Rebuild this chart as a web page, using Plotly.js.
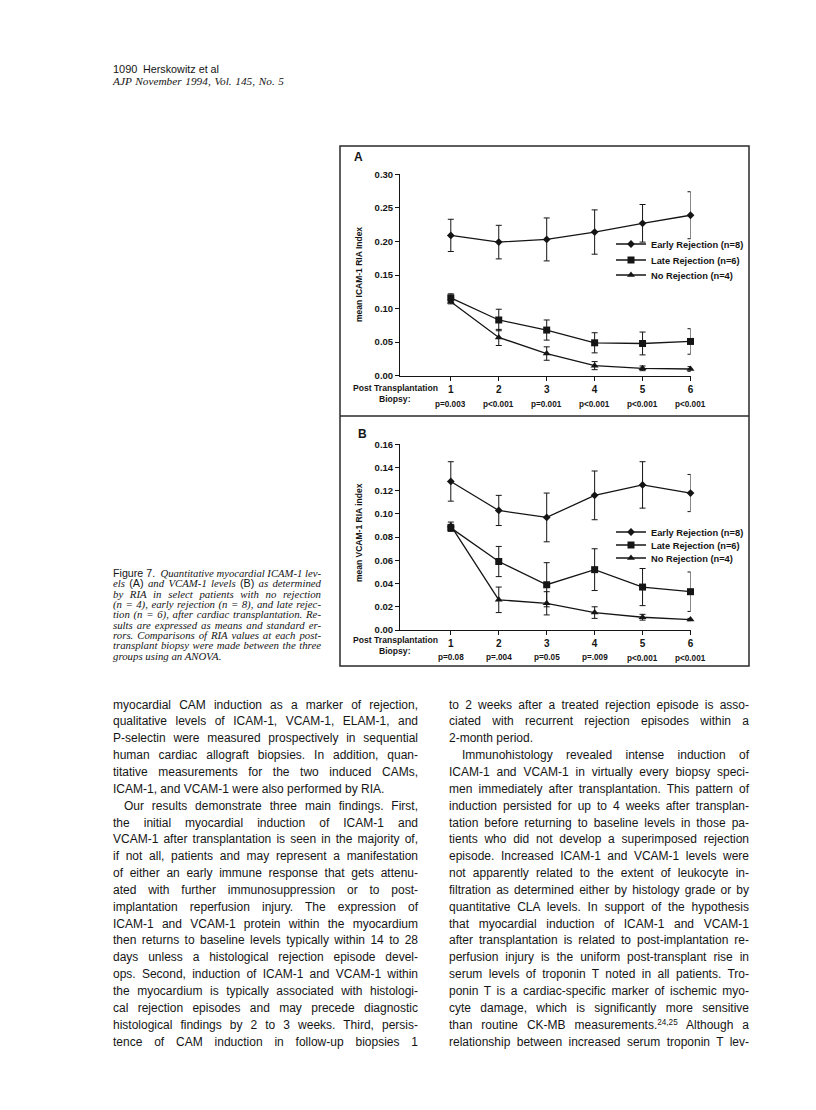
<!DOCTYPE html>
<html><head><meta charset="utf-8">
<script src="https://cdn.plot.ly/plotly-3.0.1.min.js"></script>
<style>
html,body{margin:0;padding:0;background:#fff;}
#page{position:relative;width:816px;height:1110px;overflow:hidden;background:#fff;}
#chart{position:absolute;left:0;top:0;width:816px;height:1110px;}
#text{position:absolute;left:0;top:0;width:816px;height:1110px;}
.ln{position:absolute;white-space:nowrap;color:#151515;transform-origin:0 50%;}
.sans{font-family:"Liberation Sans",Arial,Helvetica,sans-serif;font-style:normal;}
.serif{font-family:"Liberation Serif","Times New Roman",serif;font-style:italic;}
sup{font-size:0.68em;vertical-align:0.45em;line-height:0;}
</style></head><body>
<div id="page"><div id="text"></div><div id="chart"></div></div>
<script>
// ---------------- data ----------------
const biopsy = [1, 2, 3, 4, 5, 6];
const biopsyLabels = ["1", "2", "3", "4", "5", "6"];
const seriesNames = ["Early Rejection (n=8)", "Late Rejection (n=6)", "No Rejection (n=4)"];

// Panel A: ICAM-1
const icamEarly = [0.209, 0.199, 0.203, 0.214, 0.227, 0.239];
const icamEarlyErr = [0.024, 0.025, 0.032, 0.033, 0.028, 0.035];
const icamLate = [0.116, 0.083, 0.068, 0.049, 0.048, 0.051];
const icamLateErr = [0.006, 0.016, 0.015, 0.015, 0.017, 0.019];
const icamNo = [0.110, 0.057, 0.033, 0.015, 0.011, 0.010];
const icamNoErr = [0.003, 0.012, 0.010, 0.006, 0.0035, 0.0035];
const icamP = ["p=0.003", "p<0.001", "p=0.001", "p<0.001", "p<0.001", "p<0.001"];

// Panel B: VCAM-1
const vcamEarly = [0.128, 0.103, 0.097, 0.116, 0.125, 0.118];
const vcamEarlyErr = [0.017, 0.013, 0.021, 0.021, 0.020, 0.016];
const vcamLate = [0.088, 0.059, 0.039, 0.052, 0.037, 0.033];
const vcamLateErr = [0.003, 0.013, 0.019, 0.018, 0.016, 0.017];
const vcamNo = [0.090, 0.026, 0.023, 0.015, 0.011, 0.009];
const vcamNoErr = [0.003, 0.011, 0.010, 0.005, 0.0025, 0.001];
const vcamP = ["p=0.08", "p=.004", "p=0.05", "p=.009", "p<0.001", "p<0.001"];

// ---------------- chart ----------------
const W = 816, H = 1110;
const px = x => x / W, py = y => 1 - y / H;
const F = '"Liberation Sans", Arial, Helvetica, sans-serif';
const INK = '#151515';
const symbols = ['diamond', 'square', 'triangle-up'];
const msizes = [6, 7, 7];

function mk(xa, ya, ys, errs, i, leg) {
  return {
    x: biopsy, y: ys, type: 'scatter', mode: 'lines+markers',
    name: seriesNames[i], xaxis: xa, yaxis: ya, legend: leg, cliponaxis: false,
    line: {color: INK, width: 1.3},
    marker: {symbol: symbols[i], size: msizes[i], color: INK},
    error_y: {type: 'data', array: errs, visible: true, color: INK, thickness: 1, width: 3}
  };
}
const traces = [
  mk('x', 'y', icamEarly, icamEarlyErr, 0, 'legend'),
  mk('x', 'y', icamLate, icamLateErr, 1, 'legend2'),
  mk('x', 'y', icamNo, icamNoErr, 2, 'legend3'),
  mk('x2', 'y2', vcamEarly, vcamEarlyErr, 0, 'legend4'),
  mk('x2', 'y2', vcamLate, vcamLateErr, 1, 'legend5'),
  mk('x2', 'y2', vcamNo, vcamNoErr, 2, 'legend6')
];

function leg(y) {
  return {x: px(611), y: py(y), xanchor: 'left', yanchor: 'middle', bgcolor: 'rgba(0,0,0,0)',
    borderwidth: 0, font: {family: F, size: 9.3, color: INK, weight: 700}, itemwidth: 30};
}
function xax(anchor) {
  return {domain: [px(400), px(690.5)], range: [-0.06, 6.0], anchor: anchor,
    tickmode: 'array', tickvals: biopsy, ticktext: biopsyLabels,
    ticks: 'outside', ticklen: 4, tickwidth: 1, tickcolor: INK,
    showline: true, linecolor: INK, linewidth: 1, showgrid: false, zeroline: false,
    tickfont: {family: F, size: 10, color: INK, weight: 700}, fixedrange: true};
}
function yax(anchor, top, bottom, max, dt) {
  return {domain: [py(bottom), py(top)], range: [0, max], anchor: anchor, dtick: dt, tick0: 0,
    tickformat: '.2f', ticks: 'outside', ticklen: 4, tickwidth: 1, tickcolor: INK,
    showline: true, linecolor: INK, linewidth: 1, showgrid: false, zeroline: false,
    tickfont: {family: F, size: 9.5, color: INK, weight: 700}, fixedrange: true};
}

const ann = [];
function txt(x, y, t, size, extra) {
  ann.push(Object.assign({xref: 'paper', yref: 'paper', x: px(x), y: py(y), text: t, showarrow: false,
    xanchor: 'center', yanchor: 'middle', font: {family: F, size: size, color: INK, weight: 700}}, extra || {}));
}
txt(358, 157, 'A', 12);
txt(362, 434, 'B', 12);
txt(359, 275, 'mean ICAM-1 RIA Index', 8.5, {textangle: -90});
txt(359, 533, 'mean VCAM-1 RIA index', 8.5, {textangle: -90});
txt(395, 388, 'Post Transplantation', 8.6);
txt(395, 398.5, 'Biopsy:', 8.6);
txt(395, 640, 'Post Transplantation', 8.6);
txt(395, 650.5, 'Biopsy:', 8.6);
biopsy.forEach((b, i) => {
  ann.push({xref: 'x', yref: 'paper', x: b, y: py(404), text: icamP[i], showarrow: false,
    xanchor: 'center', yanchor: 'middle', font: {family: F, size: 8.2, color: INK, weight: 700}});
  ann.push({xref: 'x2', yref: 'paper', x: b, y: py(i >= 4 ? 658.5 : 657), text: vcamP[i], showarrow: false,
    xanchor: 'center', yanchor: 'middle', font: {family: F, size: 8.2, color: INK, weight: 700}});
});

const shapes = [
  {type: 'rect', xref: 'paper', yref: 'paper', x0: px(340), x1: px(749), y0: py(666), y1: py(146),
    line: {color: '#2a2a2a', width: 1.5}},
  {type: 'line', xref: 'paper', yref: 'paper', x0: px(340), x1: px(749), y0: py(416), y1: py(416),
    line: {color: '#2a2a2a', width: 1.5}}
];

const layout = {
  width: W, height: H, margin: {l: 0, r: 0, t: 0, b: 0},
  paper_bgcolor: 'rgba(0,0,0,0)', plot_bgcolor: 'rgba(0,0,0,0)',
  showlegend: true,
  xaxis: xax('y'), yaxis: yax('x', 174.3, 375.7, 0.30, 0.05),
  xaxis2: xax('y2'), yaxis2: yax('x2', 444.3, 630, 0.16, 0.02),
  legend: leg(244), legend2: leg(260), legend3: leg(275),
  legend4: leg(532), legend5: leg(545), legend6: leg(558),
  annotations: ann, shapes: shapes
};
Plotly.newPlot('chart', traces, layout, {staticPlot: true, displayModeBar: false});

// ---------------- page text ----------------
const headerNum = "1090";
const headerAuthors = "Herskowitz et al";
const headerJournal = "AJP November 1994, Vol. 145, No. 5";

const captionLines = [
  '<span class="sans">Figure 7.</span>&nbsp; Quantitative myocardial ICAM-1 lev-',
  'els <span class="sans">(A)</span> and VCAM-1 levels <span class="sans">(B)</span> as determined',
  'by RIA in select patients with no rejection',
  '(n = 4), early rejection (n = 8), and late rejec-',
  'tion (n = 6), after cardiac transplantation. Re-',
  'sults are expressed as means and standard er-',
  'rors. Comparisons of RIA values at each post-',
  'transplant biopsy were made between the three',
  'groups using an ANOVA.'
];
const leftLines = [
  'myocardial CAM induction as a marker of rejection,',
  'qualitative levels of ICAM-1, VCAM-1, ELAM-1, and',
  'P-selectin were measured prospectively in sequential',
  'human cardiac allograft biopsies. In addition, quan-',
  'titative measurements for the two induced CAMs,',
  'ICAM-1, and VCAM-1 were also performed by RIA.',
  'Our results demonstrate three main findings. First,',
  'the initial myocardial induction of ICAM-1 and',
  'VCAM-1 after transplantation is seen in the majority of,',
  'if not all, patients and may represent a manifestation',
  'of either an early immune response that gets attenu-',
  'ated with further immunosuppression or to post-',
  'implantation reperfusion injury. The expression of',
  'ICAM-1 and VCAM-1 protein within the myocardium',
  'then returns to baseline levels typically within 14 to 28',
  'days unless a histological rejection episode devel-',
  'ops. Second, induction of ICAM-1 and VCAM-1 within',
  'the myocardium is typically associated with histologi-',
  'cal rejection episodes and may precede diagnostic',
  'histological findings by 2 to 3 weeks. Third, persis-',
  'tence of CAM induction in follow-up biopsies 1'
];
const rightLines = [
  'to 2 weeks after a treated rejection episode is asso-',
  'ciated with recurrent rejection episodes within a',
  '2-month period.',
  'Immunohistology revealed intense induction of',
  'ICAM-1 and VCAM-1 in virtually every biopsy speci-',
  'men immediately after transplantation. This pattern of',
  'induction persisted for up to 4 weeks after transplan-',
  'tation before returning to baseline levels in those pa-',
  'tients who did not develop a superimposed rejection',
  'episode. Increased ICAM-1 and VCAM-1 levels were',
  'not apparently related to the extent of leukocyte in-',
  'filtration as determined either by histology grade or by',
  'quantitative CLA levels. In support of the hypothesis',
  'that myocardial induction of ICAM-1 and VCAM-1',
  'after transplantation is related to post-implantation re-',
  'perfusion injury is the uniform post-transplant rise in',
  'serum levels of troponin T noted in all patients. Tro-',
  'ponin T is a cardiac-specific marker of ischemic myo-',
  'cyte damage, which is significantly more sensitive',
  'than routine CK-MB measurements.<sup>24,25</sup> Although a',
  'relationship between increased serum troponin T lev-'
];

const box = document.getElementById('text');
function place(html, x, yc, width, cls, fs, justify, lh) {
  const d = document.createElement('div');
  const lineH = fs * (lh || 1.2);
  d.className = 'ln ' + cls;
  d.innerHTML = html;
  d.style.left = x + 'px';
  d.style.fontSize = fs + 'px';
  d.style.lineHeight = lineH + 'px';
  d.style.top = (yc - lineH / 2 - fs * 0.02) + 'px';
  box.appendChild(d);
  const w = d.getBoundingClientRect().width;
  const t = d.textContent;
  const spaces = (t.match(/[ \u00a0]/g) || []).length;
  const extra = width - w;
  if (justify && extra >= 0 && spaces > 0) d.style.wordSpacing = (extra / spaces) + 'px';
  else if (extra < 0) d.style.transform = 'scaleX(' + (width / w) + ')';
}

place(headerNum, 113, 70, 30, 'sans', 11, false, 1.0);
place(headerAuthors, 142.5, 70, 76, 'sans', 11, false, 1.0);
place(headerJournal, 113, 81.5, 171, 'serif', 11.3, true, 1.0);

captionLines.forEach((l, i) => {
  place(l, 113, 573.3 + i * 10.35, 208, 'serif', 10.8, i < captionLines.length - 1, 0.95);
});

const bodyTop = 705, bodyStep = 16.85;
leftLines.forEach((l, i) => {
  const indent = (i === 6) ? 11 : 0;
  const last = (i === 5);
  place(l, 113 + indent, bodyTop + i * bodyStep, 305 - indent, 'sans', 12, !last);
});
rightLines.forEach((l, i) => {
  const indent = (i === 3) ? 13 : 0;
  const last = (i === 2);
  place(l, 449 + indent, bodyTop + i * bodyStep, 300 - indent, 'sans', 12, !last);
});
</script>
</body></html>
